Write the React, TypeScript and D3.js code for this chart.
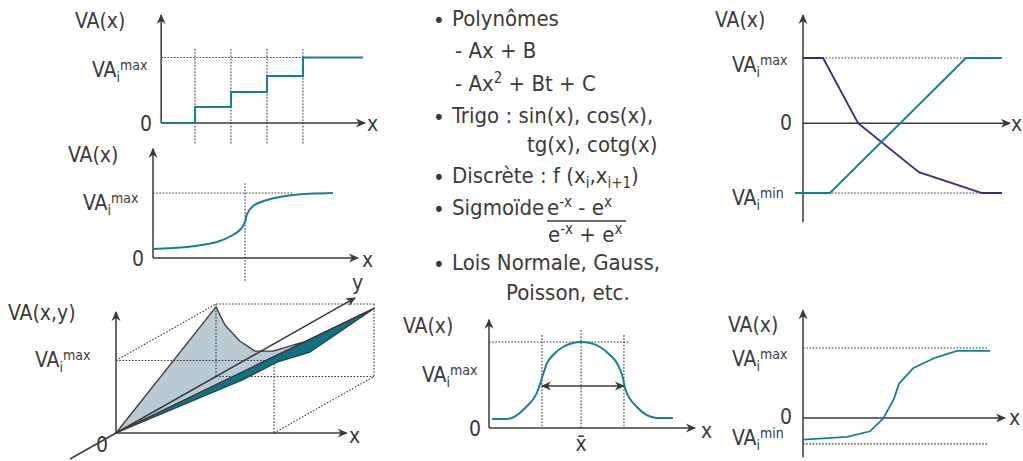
import React from "react";
import * as d3 from "d3";

const W = 1023;
const H = 461;
const FONT = "'DejaVu Sans Condensed', 'DejaVu Sans', Verdana, sans-serif";
const INK = "#3a3a3a";
const TEAL = "#17808f";
const NAVY = "#2e2e8e";
const LIGHT = "#b9cad4";
const DEEP = "#0e7286";

// panel 1 : discrete steps
const stepX = [0.06, 1, 2, 3, 4, 5.67];
const stepLevels = [0, 0.98, 1.89, 2.87, 4, 4];
const stepBreaks = [1, 2, 3, 4];
const stepMax = 4;

// panel 2 : smooth curve with vertical tangent
const sigX = [0, 1.66, 3.12, 3.9, 4.29, 4.49, 4.59, 4.88, 5.56, 6.83, 8.78];
const sigY = [0.138, 0.169, 0.246, 0.354, 0.446, 0.554, 0.677, 0.8, 0.892, 0.969, 1.0];
const sigMid = 4.49;

// panel 3 : surface VA(x,y)  (X, Y, Z in box units)
const ridgeX = [0, 0.057, 0.15, 0.247, 0.36, 0.53, 0.6, 1];
const ridgeZ = [0.96, 0.71, 0.49, 0.35, 0.35, 0.46, 0.5, 0.94];
const lowerT = [0, 0.49, 0.624, 0.752, 1];
const lowerZ = [0, 0.35, 0.49, 0.53, 0.94];

// panel 4 : text list
const bullets = [
  {x: 452, y: 26, text: "Polynômes"},
  {x: 452, y: 123, text: "Trigo : sin(x), cos(x),"},
  {x: 452, y: 183, text: "Discrète : f (x"},
  {x: 452, y: 215, text: "Sigmoïde"},
  {x: 452, y: 270, text: "Lois Normale, Gauss,"},
];

// panel 5 : bell curve
const gaussX = [0.15, 0.87, 1.75, 2.38, 2.57, 2.82, 3.11, 3.59, 4.08, 4.47, 4.9, 5.39, 5.87, 6.26, 6.5, 6.6, 7.18, 8.16, 8.93];
const gaussY = [0.105, 0.105, 0.233, 0.442, 0.581, 0.756, 0.849, 0.942, 0.988, 1, 0.988, 0.942, 0.849, 0.733, 0.581, 0.465, 0.244, 0.116, 0.116];
const gaussMarks = [2.57, 4.47, 6.55];
const gaussWidthLevel = 0.488;

// panel 6 : linear ramps
const fallX = [0, 0.97, 2.66, 5.6, 8.65, 9.61];
const fallY = [1, 1, 0, -0.75, -1.07, -1.07];
const riseX = [-0.39, 1.3, 7.87, 9.61];
const riseY = [-1.07, -1.07, 1, 1];
const rampMin = -1.07;

// panel 7 : S curve
const sX = [0, 2.18, 3.32, 3.96, 4.5, 4.75, 5.45, 6.53, 7.62, 9.26];
const sY = [-0.31, -0.27, -0.19, -0.01, 0.27, 0.49, 0.71, 0.86, 0.96, 0.96];
const sMin = -0.37;

const Axis = ({x1, y1, x2, y2, arrow = true}: any) => (
  <line x1={x1} y1={y1} x2={x2} y2={y2} stroke={INK} strokeWidth={1.5}
    markerEnd={arrow ? "url(#arr)" : undefined}/>
);

const Dot = ({x1, y1, x2, y2}: any) => (
  <line x1={x1} y1={y1} x2={x2} y2={y2} stroke={INK} strokeWidth={1.1} strokeDasharray="1.6,1.6"/>
);

const T = ({x, y, children, anchor = "start", size = 21}: any) => (
  <text x={x} y={y} fontSize={size} textAnchor={anchor} fill={INK}>{children}</text>
);

const VAi = ({x, y, sup}: any) => (
  <text x={x} y={y} fontSize={21} fill={INK}>
    VA<tspan fontSize={14} dy={5}>i</tspan><tspan fontSize={14} dy={-12}>{sup}</tspan>
  </text>
);

const pts = (xs: number[], ys: number[]) => xs.map((x, i) => [x, ys[i]] as [number, number]);

export default function App() {
  // panel 1
  const x1 = d3.scaleLinear().domain([0, 4]).range([159, 303]);
  const y1 = d3.scaleLinear().domain([0, 4]).range([123, 57.5]);
  const step = d3.line<[number, number]>().x(d => x1(d[0])).y(d => y1(d[1])).curve(d3.curveStepAfter);

  // panel 2
  const x2 = d3.scaleLinear().domain([0, 10]).range([153, 358]);
  const y2 = d3.scaleLinear().domain([0, 1]).range([258, 193]);
  const sig = d3.line<[number, number]>().x(d => x2(d[0])).y(d => y2(d[1])).curve(d3.curveCatmullRom);

  // panel 3 projection
  const sx = d3.scaleLinear().domain([0, 1]).range([116, 274]);
  const sz = d3.scaleLinear().domain([0, 1]).range([433, 360.5]);
  const depth = d3.scaleLinear().domain([0, 1]).range([0, 100]);
  const rise = d3.scaleLinear().domain([0, 1]).range([0, 56.5]);
  const P = (X: number, Y: number, Z: number): [number, number] => [sx(X) + depth(Y), sz(Z) - rise(Y)];
  const poly = d3.line<[number, number]>();
  const lightPts: [number, number][] = [P(0, 0, 0), ...ridgeX.map((r, i) => P(r, 1, ridgeZ[i])), P(0, 0, 0)];
  const deepPts: [number, number][] = [
    P(0, 0, 0), P(1, 1, ridgeZ[ridgeZ.length - 1]),
    ...lowerT.slice().reverse().map((t, i) => P(t, t, lowerZ[lowerZ.length - 1 - i])),
  ];
  const box: [number, number, number][][] = [
    [[0, 0, 1], [1, 0, 1]], [[1, 0, 1], [1, 0, 0]], [[0, 0, 1], [0, 1, 1]],
    [[0, 1, 1], [1, 1, 1]], [[1, 1, 1], [1, 1, 0]], [[0, 1, 0], [1, 1, 0]],
    [[0, 1, 1], [0, 1, 0]], [[1, 0, 0], [1, 1, 0]],
  ];
  const o3 = P(0, 0, 0);
  const yStart = P(0, -0.46, 0);
  const yEnd = P(0, 2.39, 0);

  // panel 5
  const x5 = d3.scaleLinear().domain([0, 10]).range([489, 695]);
  const y5 = d3.scaleLinear().domain([0, 1]).range([428, 342]);
  const bell = d3.line<[number, number]>().x(d => x5(d[0])).y(d => y5(d[1])).curve(d3.curveMonotoneX);

  // panel 6
  const x6 = d3.scaleLinear().domain([0, 10]).range([803, 1010]);
  const y6 = d3.scaleLinear().domain([rampMin, 1]).range([193, 58]);
  const ramp = d3.line<[number, number]>().x(d => x6(d[0])).y(d => y6(d[1]));

  // panel 7
  const x7 = d3.scaleLinear().domain([0, 10]).range([803, 1005]);
  const y7 = d3.scaleLinear().domain([0, 1]).range([418, 348]);
  const sline = d3.line<[number, number]>().x(d => x7(d[0])).y(d => y7(d[1]));

  return (
    <svg width={W} height={H} style={{position: "absolute", left: 0, top: 0, background: "#fff"}}
      fontFamily={FONT}>
      <defs>
        <marker id="arr" viewBox="-10 -5 12 10" refX={0} refY={0} markerWidth={12} markerHeight={10}
          markerUnits="userSpaceOnUse" orient="auto-start-reverse">
          <path d="M1,0 L-9,-4.5 L-6,0 L-9,4.5Z" fill={INK}/>
        </marker>
      </defs>

      {/* panel 1 */}
      {stepBreaks.map(b => <Dot key={b} x1={x1(b)} x2={x1(b)} y1={y1(4.52)} y2={y1(-1.34)}/>)}
      <Dot x1={x1(stepX[0])} x2={x1(4)} y1={y1(stepMax)} y2={y1(stepMax)}/>
      <Axis x1={x1(stepX[0])} y1={y1(0)} x2={x1(5.72)} y2={y1(0)}/>
      <Axis x1={x1(stepX[0])} y1={y1(0)} x2={x1(stepX[0])} y2={y1(6.6)}/>
      <path d={step(pts(stepX, stepLevels)) || ""} fill="none" stroke={TEAL} strokeWidth={2}/>
      <T x={75} y={28}>VA(x)</T>
      <VAi x={92} y={77} sup="max"/>
      <T x={152} y={131} anchor="end">0</T>
      <T x={367} y={131}>x</T>

      {/* panel 2 */}
      <Dot x1={x2(sigMid)} x2={x2(sigMid)} y1={y2(1.15)} y2={y2(-0.38)}/>
      <Dot x1={x2(0)} x2={x2(6.83)} y1={y2(1)} y2={y2(1)}/>
      <Axis x1={x2(0)} y1={y2(0)} x2={x2(10)} y2={y2(0)}/>
      <Axis x1={x2(0)} y1={y2(0)} x2={x2(0)} y2={y2(1.68)}/>
      <path d={sig(pts(sigX, sigY)) || ""} fill="none" stroke={TEAL} strokeWidth={2}/>
      <T x={68} y={162}>VA(x)</T>
      <VAi x={83} y={210} sup="max"/>
      <T x={144} y={266} anchor="end">0</T>
      <T x={362} y={267}>x</T>

      {/* panel 3 */}
      <path d={poly(lightPts) + "Z"} fill={LIGHT} stroke={INK} strokeWidth={1.3} strokeLinejoin="round"/>
      {box.map((s, i) => {
        const a = P(s[0][0], s[0][1], s[0][2]);
        const b = P(s[1][0], s[1][1], s[1][2]);
        return <Dot key={i} x1={a[0]} y1={a[1]} x2={b[0]} y2={b[1]}/>;
      })}
      <Dot x1={o3[0]} x2={sx(0)} y1={sz(1)} y2={sz(1)}/>
      <path d={poly(deepPts) + "Z"} fill={DEEP} stroke={INK} strokeWidth={1.3} strokeLinejoin="round"/>
      <Axis x1={yStart[0]} y1={yStart[1]} x2={yEnd[0]} y2={yEnd[1]}/>
      <Axis x1={o3[0]} y1={o3[1]} x2={sx(1.46)} y2={o3[1]}/>
      <Axis x1={o3[0]} y1={o3[1]} x2={o3[0]} y2={sz(1.67)}/>
      <T x={8} y={320}>VA(x,y)</T>
      <VAi x={35} y={367} sup="max"/>
      <T x={96} y={452}>0</T>
      <T x={349} y={443}>x</T>
      <T x={352} y={290}>y</T>

      {/* panel 4 : text */}
      <g fill={INK} fontSize={22}>
        {bullets.map(b => (
          <text key={b.y} x={433} y={b.y + 2} fontSize={22}>•</text>
        ))}
        <text x={452} y={26}>Polynômes</text>
        <text x={455} y={58}>- Ax + B</text>
        <text x={455} y={91}>- Ax<tspan fontSize={15} dy={-8}>2</tspan><tspan dy={8}> + Bt + C</tspan></text>
        <text x={452} y={123}>Trigo : sin(x), cos(x),</text>
        <text x={527} y={152}>tg(x), cotg(x)</text>
        <text x={452} y={183}>Discrète : f (x<tspan fontSize={15} dy={5}>i</tspan><tspan dy={-5}>,x</tspan><tspan fontSize={15} dy={5}>i+1</tspan><tspan dy={-5}>)</tspan></text>
        <text x={452} y={215}>Sigmoïde</text>
        <text x={547} y={215}>e<tspan fontSize={15} dy={-8}>-x</tspan><tspan dy={8}> - e</tspan><tspan fontSize={15} dy={-8}>x</tspan></text>
        <line x1={547} x2={626} y1={221} y2={221} stroke={INK} strokeWidth={1.3}/>
        <text x={548} y={242}>e<tspan fontSize={15} dy={-8}>-x</tspan><tspan dy={8}> + e</tspan><tspan fontSize={15} dy={-8}>x</tspan></text>
        <text x={452} y={270}>Lois Normale, Gauss,</text>
        <text x={506} y={300}>Poisson, etc.</text>
      </g>

      {/* panel 5 */}
      {gaussMarks.map(m => <Dot key={m} x1={x5(m)} x2={x5(m)} y1={y5(m === 4.47 ? 1.14 : 1.08)} y2={y5(0)}/>)}
      <Dot x1={x5(0)} x2={x5(6.84)} y1={y5(1)} y2={y5(1)}/>
      <line x1={x5(gaussMarks[0])} x2={x5(gaussMarks[2])} y1={y5(gaussWidthLevel)} y2={y5(gaussWidthLevel)}
        stroke={INK} strokeWidth={1.5} markerStart="url(#arr)" markerEnd="url(#arr)"/>
      <Axis x1={x5(0)} y1={y5(0)} x2={x5(10)} y2={y5(0)}/>
      <Axis x1={x5(0)} y1={y5(0)} x2={x5(0)} y2={y5(1.26)}/>
      <path d={bell(pts(gaussX, gaussY)) || ""} fill="none" stroke={TEAL} strokeWidth={2}/>
      <T x={403} y={333}>VA(x)</T>
      <VAi x={422} y={382} sup="max"/>
      <T x={481} y={436} anchor="end">0</T>
      <T x={701} y={438}>x</T>
      <T x={x5(4.47)} y={451} anchor="middle">x̄</T>

      {/* panel 6 */}
      <Dot x1={x6(0)} x2={x6(9.61)} y1={y6(1)} y2={y6(1)}/>
      <Dot x1={x6(0)} x2={x6(9.61)} y1={y6(rampMin)} y2={y6(rampMin)}/>
      <Axis x1={x6(0)} y1={y6(0)} x2={x6(10)} y2={y6(0)}/>
      <Axis x1={x6(0)} y1={y6(-1.52)} x2={x6(0)} y2={y6(1.66)}/>
      <path d={ramp(pts(fallX, fallY)) || ""} fill="none" stroke={NAVY} strokeWidth={1.8}/>
      <path d={ramp(pts(riseX, riseY)) || ""} fill="none" stroke={TEAL} strokeWidth={1.8}/>
      <T x={715} y={27}>VA(x)</T>
      <VAi x={732} y={72} sup="max"/>
      <VAi x={732} y={205} sup="min"/>
      <T x={792} y={130} anchor="end">0</T>
      <T x={1011} y={131}>x</T>

      {/* panel 7 */}
      <Dot x1={x7(0)} x2={x7(9.11)} y1={y7(1)} y2={y7(1)}/>
      <Dot x1={x7(0)} x2={x7(9.11)} y1={y7(sMin)} y2={y7(sMin)}/>
      <Axis x1={x7(0)} y1={y7(0)} x2={x7(10)} y2={y7(0)}/>
      <Axis x1={x7(0)} y1={y7(-0.56)} x2={x7(0)} y2={y7(1.54)}/>
      <path d={sline(pts(sX, sY)) || ""} fill="none" stroke={TEAL} strokeWidth={1.8}/>
      <T x={728} y={332}>VA(x)</T>
      <VAi x={732} y={366} sup="max"/>
      <VAi x={732} y={445} sup="min"/>
      <T x={792} y={424} anchor="end">0</T>
      <T x={1009} y={425}>x</T>
    </svg>
  );
}
